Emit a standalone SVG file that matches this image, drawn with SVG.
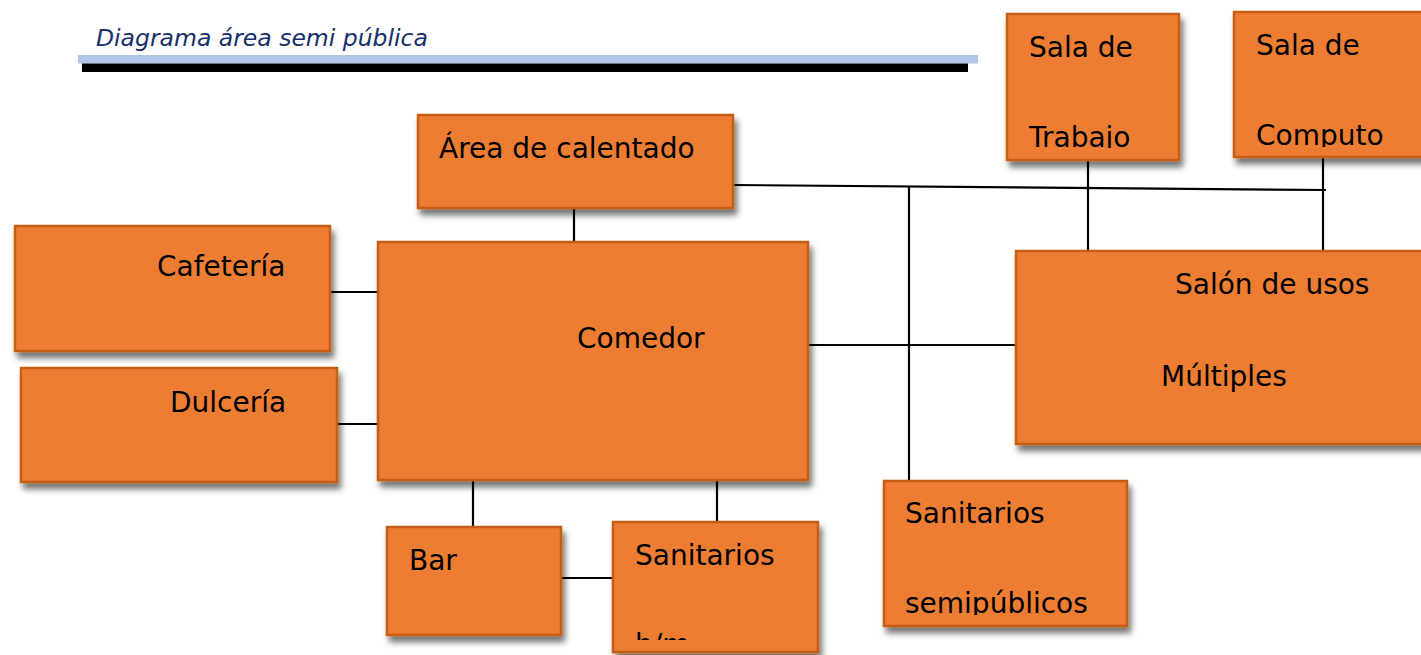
<svg xmlns="http://www.w3.org/2000/svg" width="1421" height="655" viewBox="0 0 1421 655">
<style>
.box{fill:#ed7d31;stroke:#c55d17;stroke-width:2.5;filter:url(#sh)}
.lbl{font-family:"DejaVu Sans","Verdana",sans-serif;font-size:28px;fill:#000}
.con line{stroke:#000;stroke-width:2.2}
.hdr{font-family:"DejaVu Sans",sans-serif;font-style:italic;font-size:23.5px;fill:#152f6b}
</style>
<defs>
<filter id="sh" x="-10%" y="-10%" width="130%" height="140%">
<feDropShadow dx="3" dy="6" stdDeviation="3" flood-color="#000" flood-opacity="0.55"/>
</filter>
<clipPath id="cTrab"><rect x="1007" y="14" width="172" height="134"/></clipPath>
<clipPath id="cComp"><rect x="1234" y="12" width="200" height="135"/></clipPath>
<clipPath id="cSanHM"><rect x="613" y="522" width="205" height="118"/></clipPath>
<clipPath id="cSanSP"><rect x="884" y="481" width="243" height="134"/></clipPath>
</defs>
<rect width="1421" height="655" fill="#fff"/>

<g id="header">
<text class="hdr" x="96" y="46">Diagrama área semi pública</text>
<rect x="78" y="55" width="900" height="8.5" fill="#b4c6e7"/>
<rect x="82" y="63.5" width="886" height="8.5" fill="#000"/>
</g>

<g class="con" id="connectors">
<line x1="574" y1="208" x2="574" y2="242"/>
<line x1="330" y1="292" x2="378" y2="292"/>
<line x1="337" y1="424" x2="378" y2="424"/>
<line x1="473" y1="480" x2="473" y2="527"/>
<line x1="717" y1="480" x2="717" y2="522"/>
<line x1="561" y1="578" x2="613" y2="578"/>
<line x1="808" y1="345" x2="1016" y2="345"/>
<line x1="733" y1="185" x2="1326" y2="190"/>
<line x1="909" y1="187" x2="909" y2="481"/>
<line x1="1088" y1="160" x2="1088" y2="251"/>
<line x1="1323" y1="157" x2="1323" y2="251"/>
</g>

<g id="area-calentado">
<rect class="box" x="418" y="115" width="315" height="93"/>
<text class="lbl" x="439" y="158">Área de calentado</text>
</g>
<g id="cafeteria">
<rect class="box" x="15" y="226" width="315" height="125"/>
<text class="lbl" x="157" y="276">Cafetería</text>
</g>
<g id="dulceria">
<rect class="box" x="21" y="368" width="316" height="114"/>
<text class="lbl" x="170" y="412">Dulcería</text>
</g>
<g id="comedor">
<rect class="box" x="378" y="242" width="430" height="238"/>
<text class="lbl" x="577" y="348">Comedor</text>
</g>
<g id="bar">
<rect class="box" x="387" y="527" width="174" height="108"/>
<text class="lbl" x="409" y="570">Bar</text>
</g>
<g id="sanitarios-hm">
<rect class="box" x="613" y="522" width="205" height="130"/>
<g clip-path="url(#cSanHM)">
<text class="lbl" x="635" y="565">Sanitarios</text>
<text class="lbl" x="635" y="654">h/m</text>
</g>
</g>
<g id="sanitarios-semipublicos">
<rect class="box" x="884" y="481" width="243" height="145"/>
<g clip-path="url(#cSanSP)">
<text class="lbl" x="905" y="523">Sanitarios</text>
<text class="lbl" x="905" y="613">semipúblicos</text>
</g>
</g>
<g id="salon-usos-multiples">
<rect class="box" x="1016" y="251" width="420" height="193"/>
<text class="lbl" x="1175" y="294">Salón de usos</text>
<text class="lbl" x="1161" y="386">Múltiples</text>
</g>
<g id="sala-trabajo">
<rect class="box" x="1007" y="14" width="172" height="146"/>
<g clip-path="url(#cTrab)">
<text class="lbl" x="1029" y="57">Sala de</text>
<text class="lbl" x="1029" y="147">Trabajo</text>
</g>
</g>
<g id="sala-computo">
<rect class="box" x="1234" y="12" width="200" height="145"/>
<g clip-path="url(#cComp)">
<text class="lbl" x="1256" y="55">Sala de</text>
<text class="lbl" x="1256" y="145">Computo</text>
</g>
</g>
</svg>
